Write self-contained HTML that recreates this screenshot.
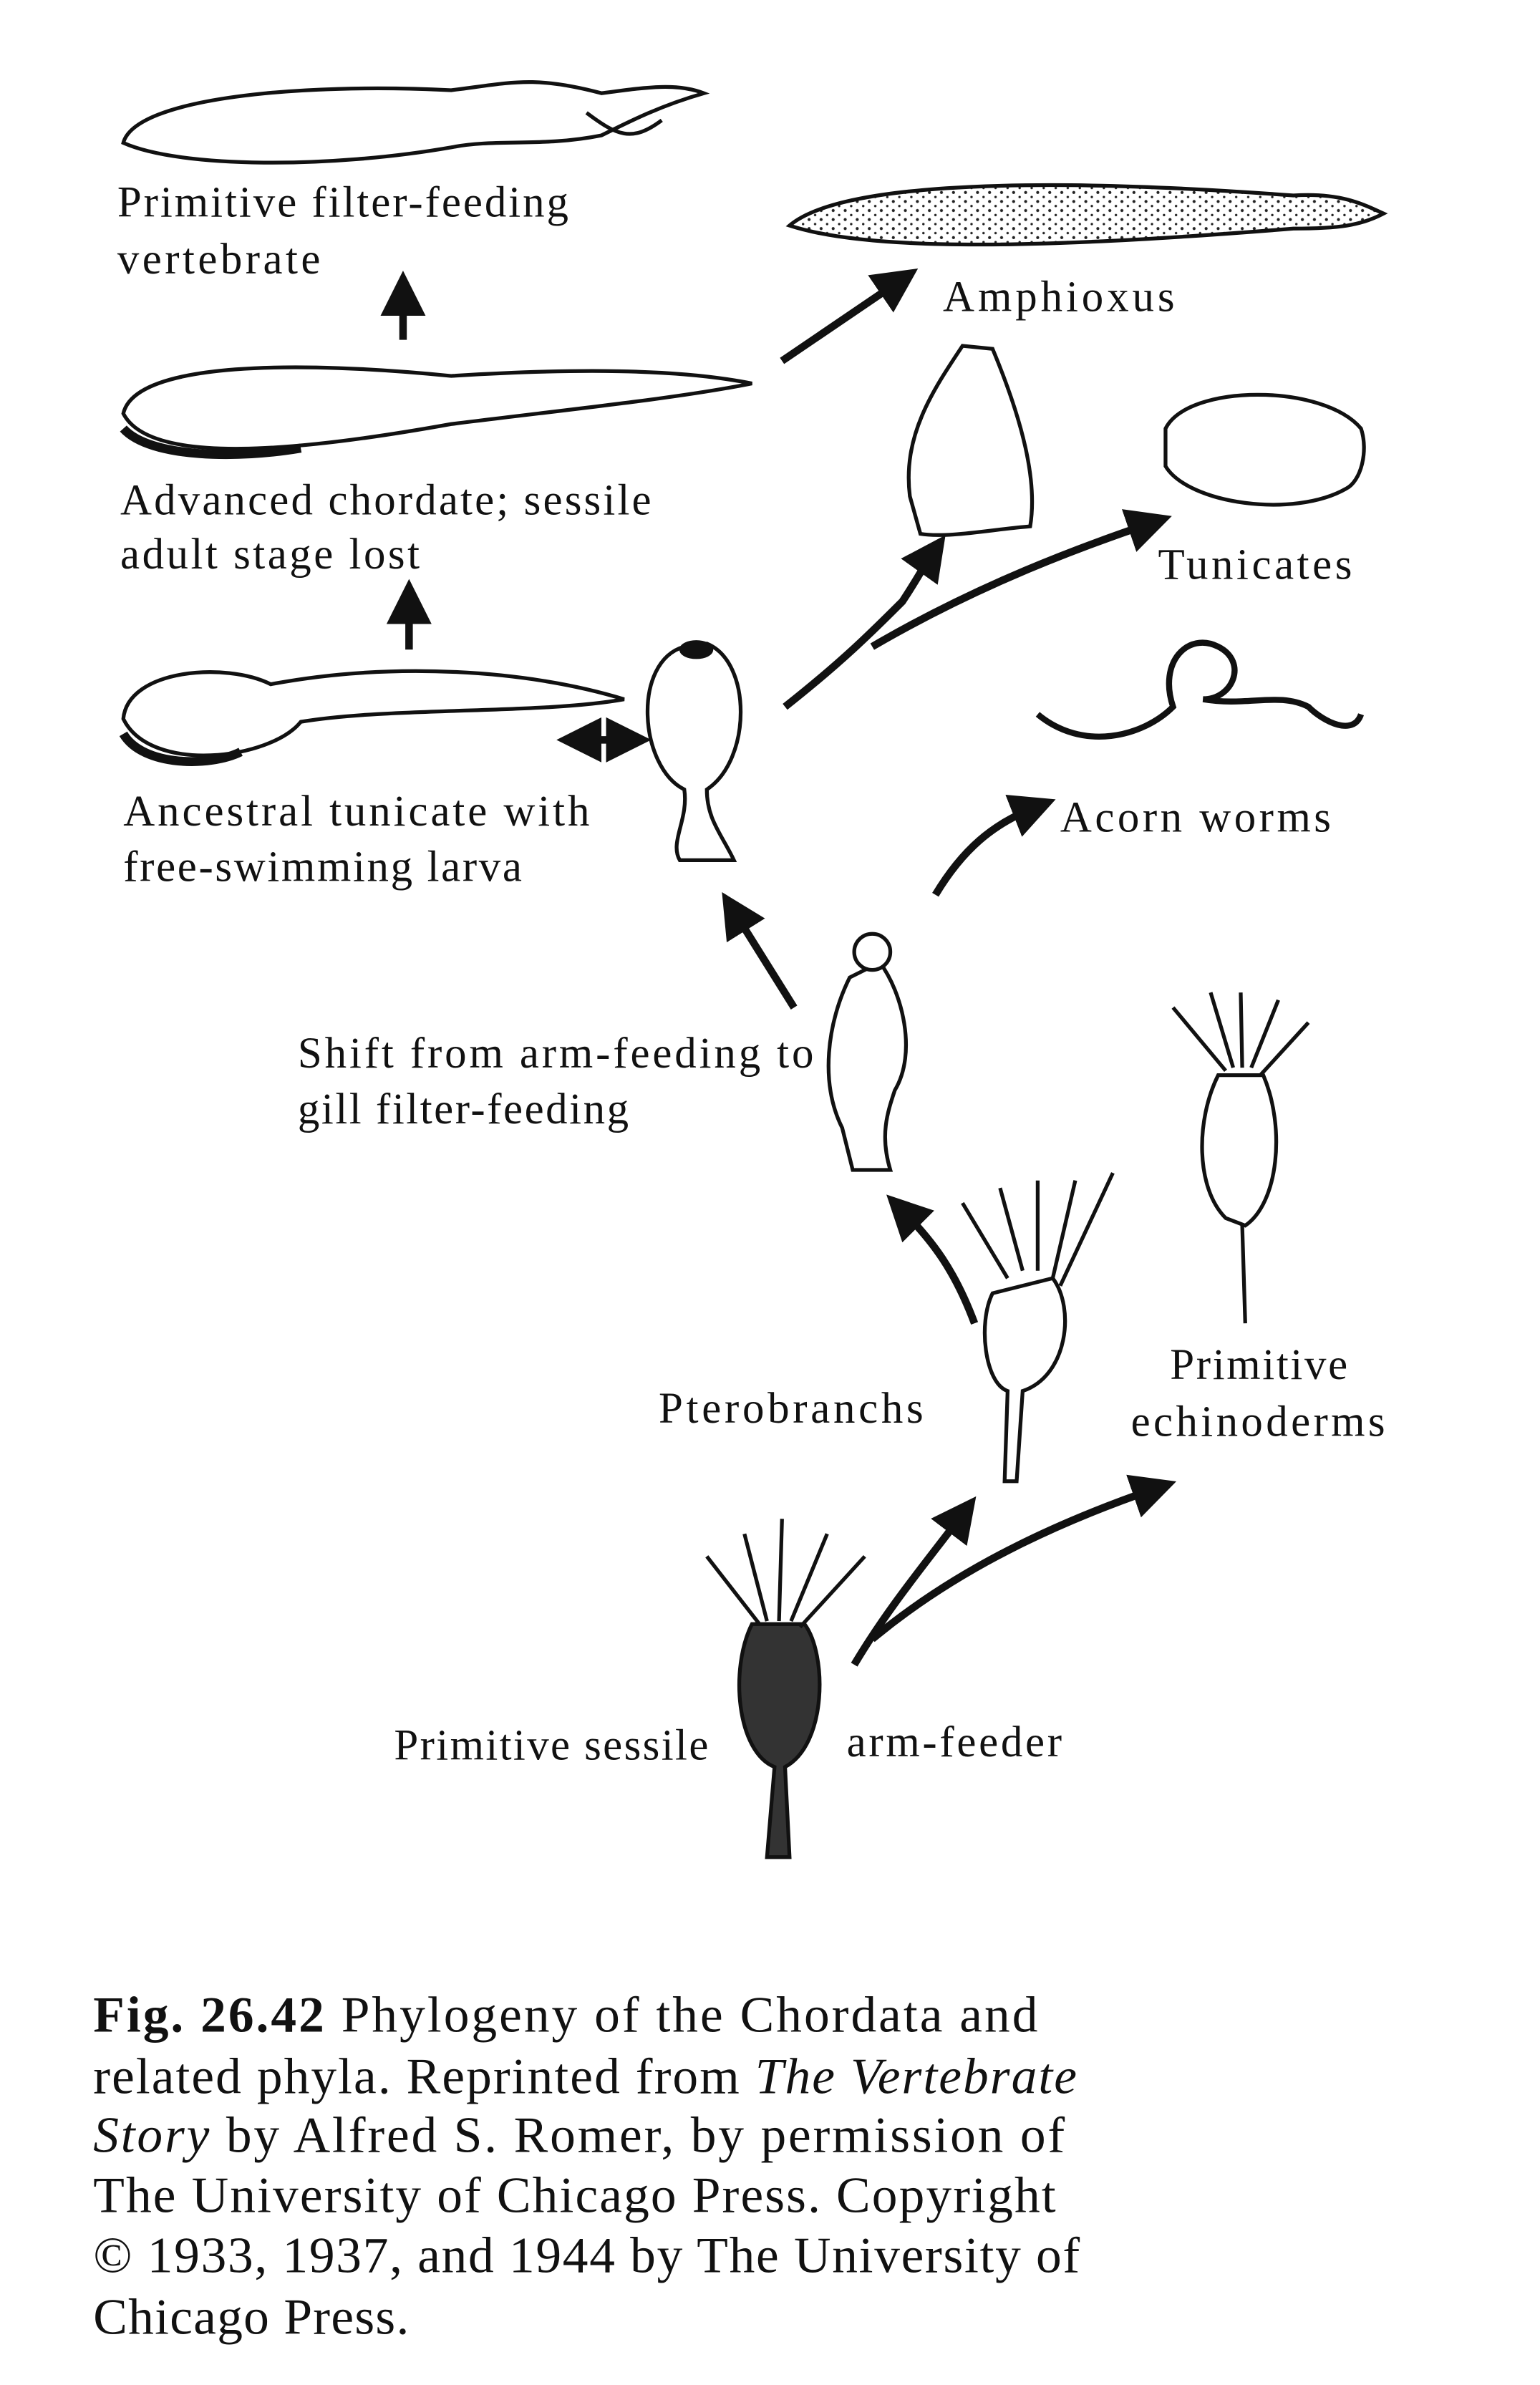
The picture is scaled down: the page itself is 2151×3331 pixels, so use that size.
<!DOCTYPE html>
<html><head><meta charset="utf-8"><style>
html,body{margin:0;padding:0;background:#fff;}
svg{display:block;}
text{font-family:"Liberation Serif",serif;fill:#111;}
</style></head><body>
<svg width="2151" height="3331" viewBox="0 0 1024 1586" preserveAspectRatio="none" xmlns="http://www.w3.org/2000/svg">
<defs>
<marker id="ah" markerWidth="6" markerHeight="6" refX="3" refY="3" orient="auto" markerUnits="strokeWidth"><path d="M0,0 L6,3 L0,6 z" fill="#111"/></marker>
<marker id="ahs" markerWidth="6" markerHeight="6" refX="3" refY="3" orient="auto-start-reverse" markerUnits="strokeWidth"><path d="M0,0 L6,3 L0,6 z" fill="#111"/></marker>
<pattern id="dots" width="8" height="6" patternUnits="userSpaceOnUse"><circle cx="2" cy="2" r="1" fill="#222"/><circle cx="6" cy="5" r="0.8" fill="#222"/></pattern>
</defs>
<g fill="none" stroke="#111" stroke-width="2.5">
<path d="M82,95 C90,65 200,55 300,60 C340,55 355,50 400,62 C430,58 450,55 468,62 C440,70 420,80 400,90 C360,98 330,92 300,98 C220,112 120,112 82,95 z" fill="#fff"/>
<path d="M390,75 C410,90 420,95 440,80" />
<path d="M525,150 C560,120 700,118 860,130 C890,128 905,135 920,142 C905,150 890,152 860,152 C700,165 580,168 525,150 z" fill="url(#dots)"/>
<path d="M82,275 C90,240 200,240 300,250 C380,245 450,245 500,255 C450,265 380,272 300,282 C200,300 100,310 82,275 z" fill="#fff"/>
<path d="M82,285 C100,305 160,305 200,298" stroke-width="6"/>
<path d="M82,478 C85,445 150,440 180,455 C260,440 350,445 415,465 C360,475 260,470 200,480 C180,505 100,515 82,478 z" fill="#fff"/>
<path d="M82,488 C95,510 140,510 160,500" stroke-width="6"/>
<path d="M455,430 C420,440 425,510 455,525 C458,545 445,560 452,572 L488,572 C480,555 470,545 470,525 C500,505 500,440 470,428 z" fill="#fff"/>
<ellipse cx="463" cy="432" rx="10" ry="5" fill="#111"/>
<path d="M640,230 C620,260 600,290 605,330 L612,355 C630,358 660,352 685,350 C690,320 680,280 660,232 z" fill="#fff"/>
<path d="M775,285 C790,255 880,255 905,285 C910,300 905,320 895,325 C860,345 790,335 775,310 z" fill="#fff"/>
<path d="M690,475 C720,500 760,490 780,470 C770,440 790,420 810,430 C830,440 820,465 800,465 C830,470 850,460 870,470 C880,480 900,490 905,475" stroke-width="4"/>
<path d="M565,650 C550,680 545,720 560,750 L567,778 L592,778 C585,755 590,740 595,725 C610,700 600,660 585,640 z" fill="#fff"/>
<circle cx="580" cy="633" r="12" fill="#fff"/>
<path d="M660,860 C650,880 655,920 670,925 L668,985 L676,985 L680,925 C710,915 715,870 700,850 z" fill="#fff"/>
<path d="M670,850 L640,800 M680,845 L665,790 M690,845 L690,785 M700,850 L715,785 M705,855 L740,780"/>
<path d="M810,715 C795,745 795,790 815,810 L828,815 C850,800 855,750 840,715 z" fill="#fff"/>
<path d="M826,815 L828,880 M815,712 L780,670 M820,710 L805,660 M826,710 L825,660 M832,710 L850,665 M838,715 L870,680"/>
<path d="M500,1080 C485,1110 490,1165 515,1175 L510,1235 L525,1235 L522,1175 C550,1160 550,1100 535,1080 z" fill="#333"/>
<path d="M505,1080 L470,1035 M510,1078 L495,1020 M518,1078 L520,1010 M526,1078 L550,1020 M532,1082 L575,1035"/>
</g>
<g fill="none" stroke="#111" stroke-width="5">
<line x1="268" y1="226" x2="268" y2="195" marker-end="url(#ah)"/>
<line x1="272" y1="432" x2="272" y2="400" marker-end="url(#ah)"/>
<line x1="520" y1="240" x2="598" y2="187" marker-end="url(#ah)"/>
<path d="M522,470 C560,440 580,420 600,400 C610,385 615,375 620,368" marker-end="url(#ah)"/>
<path d="M580,430 C640,395 700,370 765,348" marker-end="url(#ah)"/>
<line x1="385" y1="492" x2="418" y2="492" marker-end="url(#ah)" marker-start="url(#ahs)"/>
<path d="M622,595 C640,565 660,548 688,537" marker-end="url(#ah)"/>
<line x1="528" y1="670" x2="488" y2="606" marker-end="url(#ah)"/>
<path d="M648,880 C635,845 620,825 600,805" marker-end="url(#ah)"/>
<path d="M568,1107 C590,1070 615,1040 640,1007" marker-end="url(#ah)"/>
<path d="M580,1090 C640,1040 710,1010 768,990" marker-end="url(#ah)"/>
</g>
<g font-size="29" transform="translate(0,4)">
<text x="78" y="140" textLength="300" lengthAdjust="spacing">Primitive filter-feeding</text>
<text x="78" y="178" textLength="135" lengthAdjust="spacing">vertebrate</text>
<text x="627" y="203" textLength="154" lengthAdjust="spacing">Amphioxus</text>
<text x="80" y="338" textLength="353" lengthAdjust="spacing">Advanced chordate; sessile</text>
<text x="80" y="374" textLength="199" lengthAdjust="spacing">adult stage lost</text>
<text x="770" y="381" textLength="129" lengthAdjust="spacing">Tunicates</text>
<text x="82" y="545" textLength="310" lengthAdjust="spacing">Ancestral tunicate with</text>
<text x="82" y="582" textLength="265" lengthAdjust="spacing">free-swimming larva</text>
<text x="705" y="549" textLength="180" lengthAdjust="spacing">Acorn worms</text>
<text x="198" y="706" textLength="343" lengthAdjust="spacing">Shift from arm-feeding to</text>
<text x="198" y="743" textLength="220" lengthAdjust="spacing">gill filter-feeding</text>
<text x="438" y="942" textLength="176" lengthAdjust="spacing">Pterobranchs</text>
<text x="778" y="913" textLength="118" lengthAdjust="spacing">Primitive</text>
<text x="752" y="951" textLength="169" lengthAdjust="spacing">echinoderms</text>
<text x="262" y="1166" textLength="209" lengthAdjust="spacing">Primitive sessile</text>
<text x="563" y="1164" textLength="143" lengthAdjust="spacing">arm-feeder</text>
</g>
<g font-size="34" transform="translate(0,14)">
<text x="62" y="1337" textLength="628" lengthAdjust="spacing"><tspan font-weight="bold">Fig. 26.42</tspan>   Phylogeny of the Chordata and</text>
<text x="62" y="1378" textLength="654" lengthAdjust="spacing">related phyla. Reprinted from <tspan font-style="italic">The Vertebrate</tspan></text>
<text x="62" y="1417" textLength="646" lengthAdjust="spacing"><tspan font-style="italic">Story</tspan> by Alfred S. Romer, by permission of</text>
<text x="62" y="1457" textLength="640" lengthAdjust="spacing">The University of Chicago Press. Copyright</text>
<text x="62" y="1497" textLength="656" lengthAdjust="spacing">© 1933, 1937, and 1944 by The University of</text>
<text x="62" y="1538" textLength="210" lengthAdjust="spacing">Chicago Press.</text>
</g>
</svg>
</body></html>
